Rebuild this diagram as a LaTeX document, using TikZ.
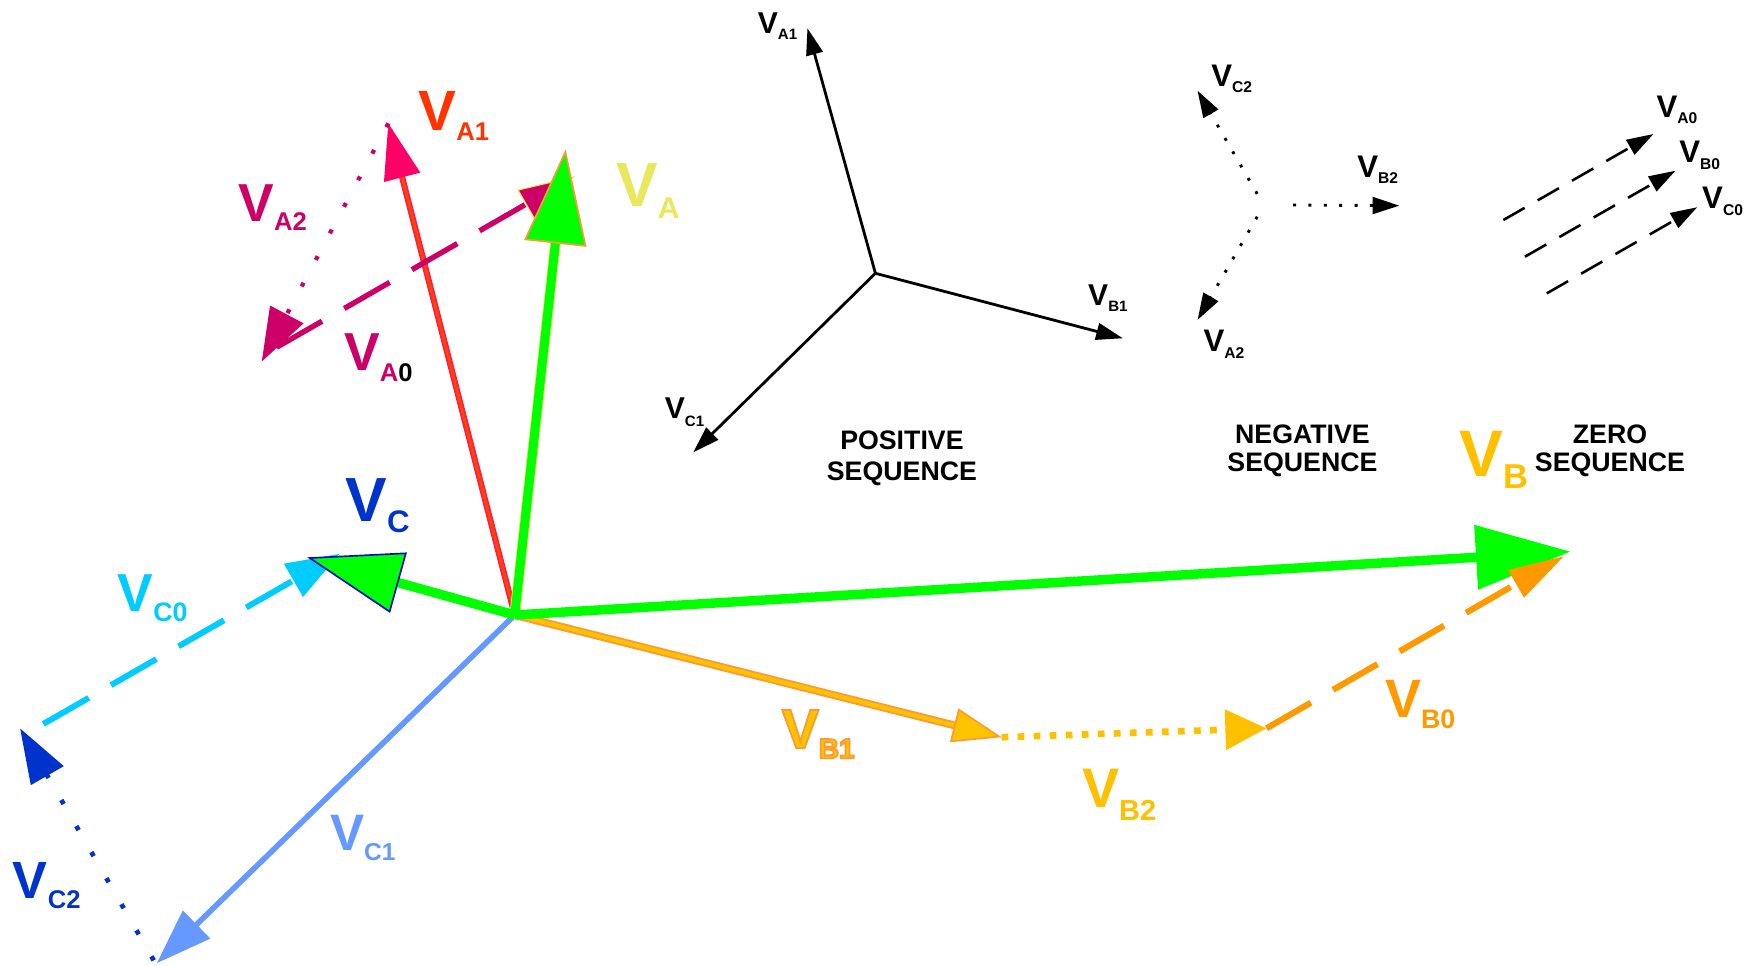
\documentclass[tikz,border=0pt]{standalone}
\usepackage{fontspec}
\setmainfont{Liberation Sans}
\usetikzlibrary{arrows.meta}
\definecolor{vgreen}{HTML}{00FF00}
\definecolor{ayel}{HTML}{E8E85C}
\definecolor{borange}{HTML}{FF9933}
\definecolor{blueedge}{HTML}{0A0ACC}
\definecolor{redout}{HTML}{FF1A4D}
\definecolor{redin}{HTML}{FF4500}
\definecolor{apink}{HTML}{FF0066}
\definecolor{aonelab}{HTML}{FF3300}
\definecolor{mag}{HTML}{CC0066}
\definecolor{vblue}{HTML}{0033CC}
\definecolor{cyanz}{HTML}{00CCFF}
\definecolor{cone}{HTML}{6699FF}
\definecolor{byel}{HTML}{FFC400}
\definecolor{btwo}{HTML}{FFC000}
\definecolor{bzero}{HTML}{FF9900}
\newcommand{\vlab}[4]{{\fontsize{#1pt}{#1pt}\selectfont V}\raisebox{-#3pt}{\fontsize{#2pt}{#2pt}\selectfont #4}}
\newcommand{\outlined}[1]{\special{pdf:literal direct 2 Tr 1.6 w 1 0.6 0.2 RG}#1\special{pdf:literal direct 0 Tr}}
\begin{document}
\begin{tikzpicture}[x=1pt,y=-1pt,
  lab/.style={inner sep=0pt, anchor=base west, font=\bfseries},
  seqtext/.style={inner sep=0pt, anchor=base, font=\bfseries\fontsize{24pt}{24pt}\selectfont},
  blk/.style={line width=2.5pt, black, -{Triangle[length=24pt,width=15pt]}},
  blkdot/.style={blk, line width=2.6pt, dash pattern=on 2.6pt off 11.2pt},
  blkdash/.style={line width=2.3pt, black, dash pattern=on 22pt off 13.5pt, -{Triangle[length=24pt,width=15pt]}},
  greenhead/.style={-{Triangle[length=85pt,width=56pt,#1]}}]
\useasboundingbox (0,0) rectangle (1568,867);
% ---------- main diagram coordinates
\coordinate (O) at (462,552);
\coordinate (A) at (507.7,134);
\coordinate (A1) at (348.5,110.7);
\coordinate (A2) at (234.9,324.6);
\coordinate (A0s) at (248.3,311.7);
\coordinate (A0) at (516,158);
\coordinate (C) at (275.8,500.2);
\coordinate (C1) at (140.6,864.6);
\coordinate (C2s) at (138,862);
\coordinate (C2) at (18,653.7);
\coordinate (C0s) at (38.9,649.8);
\coordinate (C0) at (305,497);
\coordinate (B) at (1409.7,495.1);
\coordinate (B1) at (899,661.7);
\coordinate (B2) at (1136.8,653.7);
\coordinate (B0) at (1404,499);
% ---------- phase C components
\draw[line width=5pt, cone, -{Triangle[length=50pt,width=34pt]}] (O) -- (C1);
\draw[line width=4.2pt, vblue, dash pattern=on 4.2pt off 22.8pt, -{Triangle[length=49pt,width=33pt]}] (C2s) -- (C2);
\draw[line width=5.3pt, cyanz, dash pattern=on 47pt off 23pt, -{Triangle[length=48pt,width=33pt]}] (C0s) -- (C0);
% ---------- phase B components
\draw[line width=7pt, borange, shorten >=40pt] (O) -- (B1);
\draw[line width=3.5pt, byel, -{Triangle[length=44pt,width=31pt,fill=byel,color=borange,line width=1.5pt]}] (O) -- (B1);
\draw[line width=6pt, btwo, dash pattern=on 6pt off 8.4pt, -{Triangle[length=37pt,width=35pt]}] (B1) -- (B2);
% ---------- phase A components
\draw[line width=5.5pt, redout, shorten >=48pt] (O) -- (A1);
\draw[line width=2.5pt, redin, -{Triangle[length=50pt,width=33pt,fill=apink,color=apink]}] (O) -- (A1);
\draw[line width=3.8pt, mag, dash pattern=on 3.8pt off 23.2pt, -{Triangle[length=48pt,width=33pt]}] (A1) -- (A2);
\draw[line width=4.8pt, mag, dash pattern=on 47pt off 23pt, -{Triangle[length=51pt,width=30pt,fill=mag,color=ayel,line width=1pt]}] (A0s) -- (A0);
% ---------- resultant phasors
\draw[line width=9.5pt, ayel, shorten >=80pt] (O) -- (A);
\draw[line width=8pt, vgreen, greenhead={fill=vgreen,color=borange,line width=1.5pt}] (O) -- (A);
\draw[line width=8.5pt, vgreen, greenhead={fill=vgreen,color=blueedge,line width=1.5pt}] (O) -- (C);
\draw[line width=8.5pt, vgreen, greenhead={fill=vgreen,color=vgreen}] (O) -- (B);
\draw[line width=5.5pt, bzero, dash pattern=on 46pt off 23pt, -{Triangle[length=50pt,width=27pt]}] (B2) -- (B0);
% ---------- main labels
\node[lab, text=aonelab] (lA1) at (375.4,117.3) {\vlab{51}{23}{9}{A1}};
\node[lab, text=mag] (lA2) at (213.9,198.4) {\vlab{48}{23}{8.6}{A2}};
\node[lab, text=ayel] (lA) at (553,185) {\vlab{56}{27}{11}{A}};
\node[lab, text=mag] (lA0) at (308.7,332.7) {\vlab{48}{23}{9.5}{A\textcolor{black}{0}}};
\node[lab, text=vblue] (lC) at (310,468.2) {\vlab{56}{28}{10}{C}};
\node[lab, text=cyanz] (lC0) at (105.5,549) {\vlab{48}{24}{8.5}{C0}};
\node[lab, text=cone] (lC1) at (296,763) {\vlab{46}{22}{9}{C1}};
\node[lab, text=vblue] (lC2) at (11.4,806) {\vlab{47}{23}{9.5}{C2}};
\node[lab, text=byel] (lB1) at (701.5,671.6) {\outlined{\vlab{50}{25}{9}{B1}}};
\node[lab, text=btwo] (lB2) at (971,725) {\vlab{50}{26}{11}{B2}};
\node[lab, text=bzero] (lB0) at (1243,644) {\vlab{48.5}{24}{10}{B0}};
\node[lab, text=btwo] (lB) at (1310,428) {\vlab{59}{31}{10}{B}};
% ---------- positive sequence
\coordinate (P) at (785.7,245.3);
\coordinate (PA) at (724.7,25.4);
\coordinate (PB) at (1007.8,303.6);
\coordinate (PC) at (622.2,406);
\draw[blk] (P) -- (PA);
\draw[blk] (P) -- (PB);
\draw[blk] (P) -- (PC);
\node[lab] (pA1) at (680,30) {\vlab{27}{13.5}{5.3}{A1}};
\node[lab] (pB1) at (976.5,274) {\vlab{27}{13.5}{5.7}{B1}};
\node[lab] (pC1) at (596.5,375.4) {\vlab{27}{13.5}{7}{C1}};
\node[seqtext] (pos1) at (809.5,403.3) {POSITIVE};
\node[seqtext] (pos2) at (809.5,431) {SEQUENCE};
% ---------- negative sequence
\coordinate (NCs) at (1128.4,174);
\coordinate (NAs) at (1128.4,194.5);
\coordinate (NBs) at (1160.6,184);
\coordinate (NC) at (1074.8,81.4);
\coordinate (NA) at (1074.8,287.2);
\coordinate (NB) at (1256,184.6);
\draw[blkdot] (NCs) -- (NC);
\draw[blkdot] (NAs) -- (NA);
\draw[blkdot] (NBs) -- (NB);
\node[lab] (nC2) at (1087,77.8) {\vlab{28}{14}{5.4}{C2}};
\node[lab] (nB2) at (1218,159.5) {\vlab{28}{14}{5.5}{B2}};
\node[lab] (nA2) at (1080,315.6) {\vlab{28}{14}{6}{A2}};
\node[seqtext] (neg1) at (1169,398) {NEGATIVE};
\node[seqtext] (neg2) at (1169,423.3) {SEQUENCE};
% ---------- zero sequence
\coordinate (Z1s) at (1349.3,197.5);
\coordinate (Z1) at (1484,120.3);
\coordinate (Z2s) at (1368.7,230.4);
\coordinate (Z2) at (1503.8,153.2);
\coordinate (Z3s) at (1388.3,263.3);
\coordinate (Z3) at (1523.3,186);
\draw[blkdash] (Z1s) -- (Z1);
\draw[blkdash] (Z2s) -- (Z2);
\draw[blkdash] (Z3s) -- (Z3);
\node[lab] (zA0) at (1486.7,105.3) {\vlab{28}{14}{5.4}{A0}};
\node[lab] (zB0) at (1507,146) {\vlab{28}{14}{6}{B0}};
\node[lab] (zC0) at (1527.6,187) {\vlab{28}{14}{6}{C0}};
\node[seqtext] (zer1) at (1445,398) {ZERO};
\node[seqtext] (zer2) at (1445,423.3) {SEQUENCE};
\end{tikzpicture}
\end{document}
